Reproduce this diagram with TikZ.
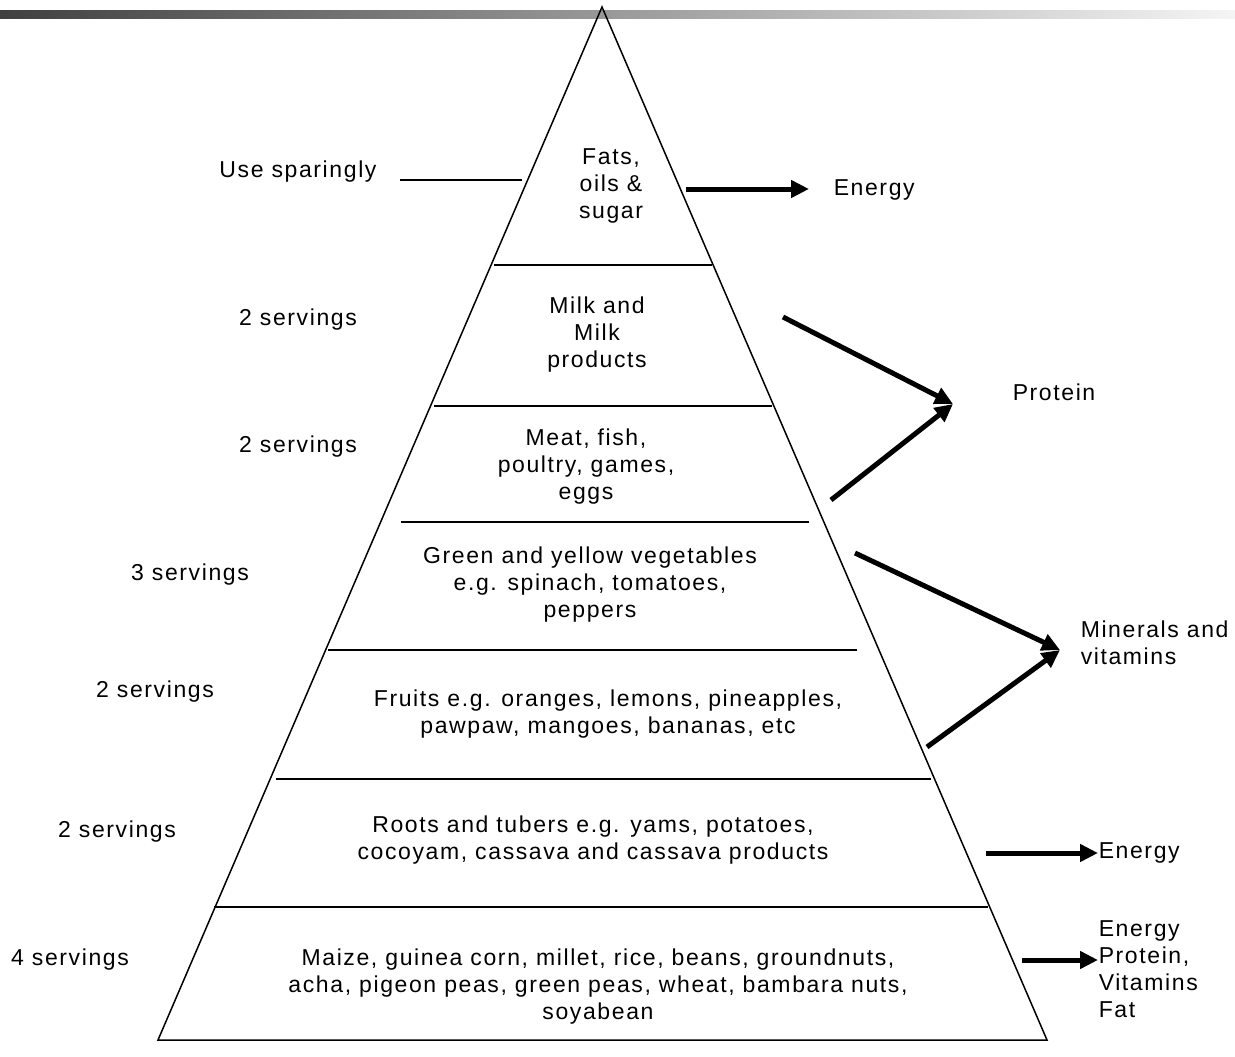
\documentclass[tikz,border=0pt]{standalone}
\usepackage{fontspec}
\setmainfont{Liberation Sans}[LetterSpace=7]
\usetikzlibrary{positioning}
\usetikzlibrary{arrows.meta}

\begin{document}
\begin{tikzpicture}[x=1pt,y=-1pt,line width=1.5pt,
                every node/.style={inner sep=0pt,font=\fontsize{23}{27}\selectfont},
                tier/.style={align=center},
                serving/.style={anchor=center},
                effect/.style={anchor=west,align=left},
                food arrow/.style={line width=5pt,-{Triangle[length=18pt,width=17pt]}}]

  \useasboundingbox (0,0) rectangle (1235,1057);
  \shade[left color=black!75,right color=black!4] (0,11) rectangle (1235,19);

  % pyramid outline
  \coordinate (apex) at (602,7);
  \coordinate (bl) at (158,1040);
  \coordinate (br) at (1047,1040);
  \draw (bl) -- (apex) -- (br) -- cycle;

  % tier dividers
  \draw (494,265) -- (712,265);
  \draw (434,406) -- (772,406);
  \draw (401,522) -- (809,522);
  \draw (328,650) -- (857,650);
  \draw (276,779) -- (931,779);
  \draw (214,907) -- (988,907);

  % food groups
  \node[tier] (fats)   at (611,186) {Fats,\\oils \&\\sugar};
  \node[tier] (milk)   at (597,335) {Milk and\\Milk\\products};
  \node[tier] (meat)   at (586,467) {Meat, fish,\\poultry, games,\\eggs};
  \node[tier] (veg)    at (590,585) {Green and yellow vegetables\\e.g. spinach, tomatoes,\\peppers};
  \node[tier] (fruit)  at (608,714) {Fruits e.g. oranges, lemons, pineapples,\\pawpaw, mangoes, bananas, etc};
  \node[tier] (roots)  at (593,840) {Roots and tubers e.g. yams, potatoes,\\cocoyam, cassava and cassava products};
  \node[tier] (grain)  at (598,987) {Maize, guinea corn, millet, rice, beans, groundnuts,\\acha, pigeon peas, green peas, wheat, bambara nuts,\\soyabean};

  % servings
  \node[serving] (spare) at (298,172) {Use sparingly};
  \node[serving] (srvB)  at (298,320) {2 servings};
  \node[serving] (srvC)  at (298,447) {2 servings};
  \node[serving] (srvD)  at (190,575) {3 servings};
  \node[serving] (srvE)  at (155,692) {2 servings};
  \node[serving] (srvF)  at (117,832) {2 servings};
  \node[serving] (srvG)  at (70,960)  {4 servings};
  \coordinate (spareA) at (400,180);
  \coordinate (spareB) at (522,180);
  \draw (spareA) -- (spareB);

  % what each group gives
  \node[effect] (energyA)  at (833,190)  {Energy};
  \node[effect] (protein)  at (1012,392) {Protein};
  \node[effect] (minerals) at (1080,643) {Minerals and\\vitamins};
  \node[effect] (energyB)  at (1098,853) {Energy};
  \node[effect] (mixed)    at (1098,969) {Energy\\Protein,\\Vitamins\\Fat};

  \coordinate (fromFats)  at (686,189);
  \coordinate (toEnergyA) at (809,189);
  \coordinate (fromMilk)  at (783,317);
  \coordinate (fromMeat)  at (831,500);
  \coordinate (toProtein) at (953,404);
  \coordinate (fromVeg)   at (855,553);
  \coordinate (fromFruit) at (927,747);
  \coordinate (toMineral) at (1060,650);
  \coordinate (fromRoots) at (986,853);
  \coordinate (fromGrain) at (1022,960);

  \draw[food arrow] (fromFats) -- (toEnergyA);
  \draw[food arrow] (fromMilk) -- (toProtein);
  \draw[food arrow] (fromMeat) -- (toProtein);
  \draw[food arrow] (fromVeg) -- (toMineral);
  \draw[food arrow] (fromFruit) -- (toMineral);
  \draw[food arrow] (fromRoots) -- (energyB.west);
  \draw[food arrow] (fromGrain) -- (mixed.west |- fromGrain);

\end{tikzpicture}
\end{document}
